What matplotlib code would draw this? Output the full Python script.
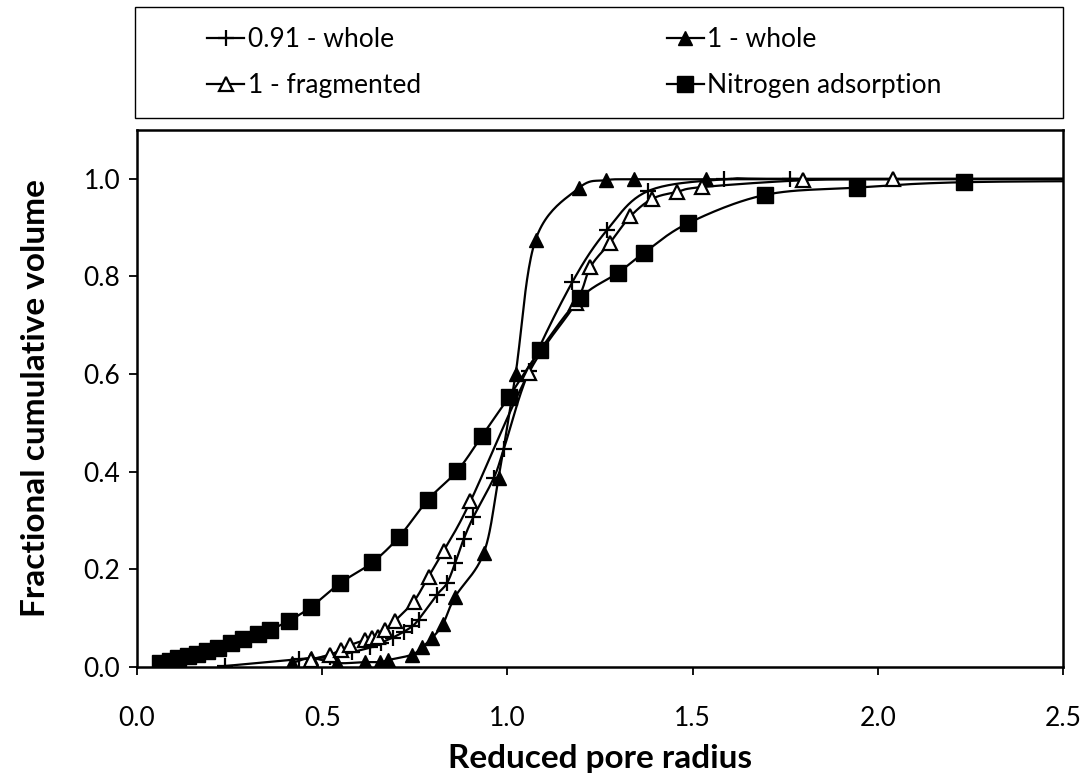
import numpy as np
import matplotlib
matplotlib.use("Agg")
import matplotlib.pyplot as plt
from matplotlib.patches import Rectangle
from matplotlib.lines import Line2D

plt.rcParams['font.family'] = ['Lato', 'DejaVu Sans']

# ---- data ----
plus_x = [0.238, 0.436, 0.52, 0.58, 0.63, 0.66, 0.69, 0.72, 0.742, 0.760, 0.810, 0.837,
          0.859, 0.882, 0.908, 0.963, 0.990, 1.058, 1.175, 1.269, 1.380, 1.586, 1.763, 2.8]
plus_y = [0.002, 0.016, 0.020, 0.030, 0.040, 0.050, 0.060, 0.072, 0.083, 0.097, 0.148, 0.172,
          0.213, 0.262, 0.307, 0.387, 0.446, 0.606, 0.788, 0.895, 0.975, 0.999, 1.000, 1.000]

whole_x = [0.418, 0.469, 0.540, 0.616, 0.657, 0.677, 0.742, 0.769, 0.796, 0.826, 0.859,
           0.936, 0.976, 1.022, 1.076, 1.193, 1.265, 1.341, 1.535, 2.8]
whole_y = [0.008, 0.018, 0.008, 0.010, 0.010, 0.014, 0.025, 0.040, 0.059, 0.088, 0.144,
           0.233, 0.387, 0.600, 0.875, 0.981, 0.997, 0.999, 0.999, 1.000]

frag_x = [0.47, 0.52, 0.551, 0.576, 0.615, 0.635, 0.65, 0.67, 0.697, 0.747, 0.787, 0.828,
          0.900, 1.058, 1.184, 1.224, 1.277, 1.332, 1.391, 1.457, 1.525, 1.799, 2.040, 2.8]
frag_y = [0.015, 0.025, 0.035, 0.045, 0.055, 0.059, 0.062, 0.076, 0.095, 0.134, 0.185, 0.238,
          0.339, 0.603, 0.745, 0.819, 0.869, 0.923, 0.959, 0.973, 0.983, 0.997, 0.999, 1.000]

n2_x = [0.062, 0.089, 0.111, 0.138, 0.162, 0.189, 0.219, 0.254, 0.286, 0.327, 0.359, 0.411,
        0.470, 0.549, 0.635, 0.708, 0.786, 0.865, 0.932, 1.003, 1.088, 1.197, 1.298, 1.370,
        1.488, 1.696, 1.945, 2.233, 2.8]
n2_y = [0.008, 0.012, 0.018, 0.023, 0.027, 0.033, 0.039, 0.049, 0.057, 0.068, 0.076, 0.095,
        0.123, 0.172, 0.214, 0.267, 0.343, 0.402, 0.474, 0.552, 0.649, 0.756, 0.807, 0.849,
        0.909, 0.967, 0.982, 0.993, 0.996]

labels = ['0.91 - whole', '1 - whole', '1 - fragmented', 'Nitrogen adsorption']
x_ticks = [0.0, 0.5, 1.0, 1.5, 2.0, 2.5]
y_ticks = [0.0, 0.2, 0.4, 0.6, 0.8, 1.0]


def smooth(x, y, n=24):
    """Catmull-Rom spline through the data points (Excel-like smoothed line)."""
    x = np.asarray(x, float)
    y = np.asarray(y, float)
    P = np.column_stack([x, y])
    P = np.vstack([P[0] - (P[1] - P[0]), P, P[-1] + (P[-1] - P[-2])])
    out = []
    t = np.linspace(0, 1, n, endpoint=False)
    for i in range(1, len(P) - 2):
        p0, p1, p2, p3 = P[i - 1], P[i], P[i + 1], P[i + 2]
        t2, t3 = t * t, t * t * t
        seg = 0.5 * ((2 * p1)[None, :] + (-p0 + p2)[None, :] * t[:, None]
                     + (2 * p0 - 5 * p1 + 4 * p2 - p3)[None, :] * t2[:, None]
                     + (-p0 + 3 * p1 - 3 * p2 + p3)[None, :] * t3[:, None])
        out.append(seg)
    out.append(P[-2][None, :])
    S = np.vstack(out)
    return S[:, 0], S[:, 1]


fig = plt.figure(figsize=(10.85, 7.75), dpi=100)
ax = fig.add_axes([0.1263, 0.1394, 0.9797 - 0.1263, 0.8323 - 0.1394])

lw = 1.6
series = [
    (plus_x, plus_y, dict(marker='+', markersize=12, markeredgewidth=1.6, color='black')),
    (whole_x, whole_y, dict(marker='^', markersize=10, color='black', markerfacecolor='black')),
    (frag_x, frag_y, dict(marker='^', markersize=10, color='black', markerfacecolor='white',
                          markeredgewidth=1.6)),
    (n2_x, n2_y, dict(marker='s', markersize=11, color='black', markerfacecolor='black')),
]

handles = []
for (xs, ys, st), lab in zip(series, labels):
    sx, sy = smooth(xs, ys)
    ax.plot(sx, sy, color='black', lw=lw, zorder=2)
    ax.plot(xs, ys, linestyle='none', zorder=3, **st)
    handles.append(Line2D([], [], lw=lw, **st))

ax.set_xlim(0, 2.5)
ax.set_ylim(0, 1.1)
ax.set_xticks(x_ticks)
ax.set_yticks(y_ticks)
ax.set_xticklabels([f'{v:.1f}' for v in x_ticks])
ax.set_yticklabels([f'{v:.1f}' for v in y_ticks])
ax.tick_params(direction='out', length=6, width=1.3, labelsize=19)
ax.tick_params(axis='x', pad=22)
ax.tick_params(axis='y', pad=6)
for sp in ax.spines.values():
    sp.set_linewidth(1.8)
    sp.set_color('black')

ax.set_xlabel('Reduced pore radius', fontsize=24, fontweight='bold')
ax.set_ylabel('Fractional cumulative volume', fontsize=24, fontweight='bold')
ax.xaxis.set_label_coords(0.5, -0.143)
ax.yaxis.set_label_coords(-0.094, 0.5)

# legend box
fig.patches.append(Rectangle((0.1244, 0.848), 0.9797 - 0.1244, 0.991 - 0.848,
                             transform=fig.transFigure, fill=False, edgecolor='black',
                             lw=1.0))
order = [0, 2, 1, 3]  # matplotlib fills legend columns first
leg = fig.legend([handles[i] for i in order], [labels[i] for i in order], ncol=2,
                 frameon=False, fontsize=19,
                 loc='center left', bbox_to_anchor=(0.169, 0.919),
                 handlelength=1.4, handletextpad=0.15, columnspacing=9.3,
                 labelspacing=0.78)

fig.savefig('out.png', dpi=100)
